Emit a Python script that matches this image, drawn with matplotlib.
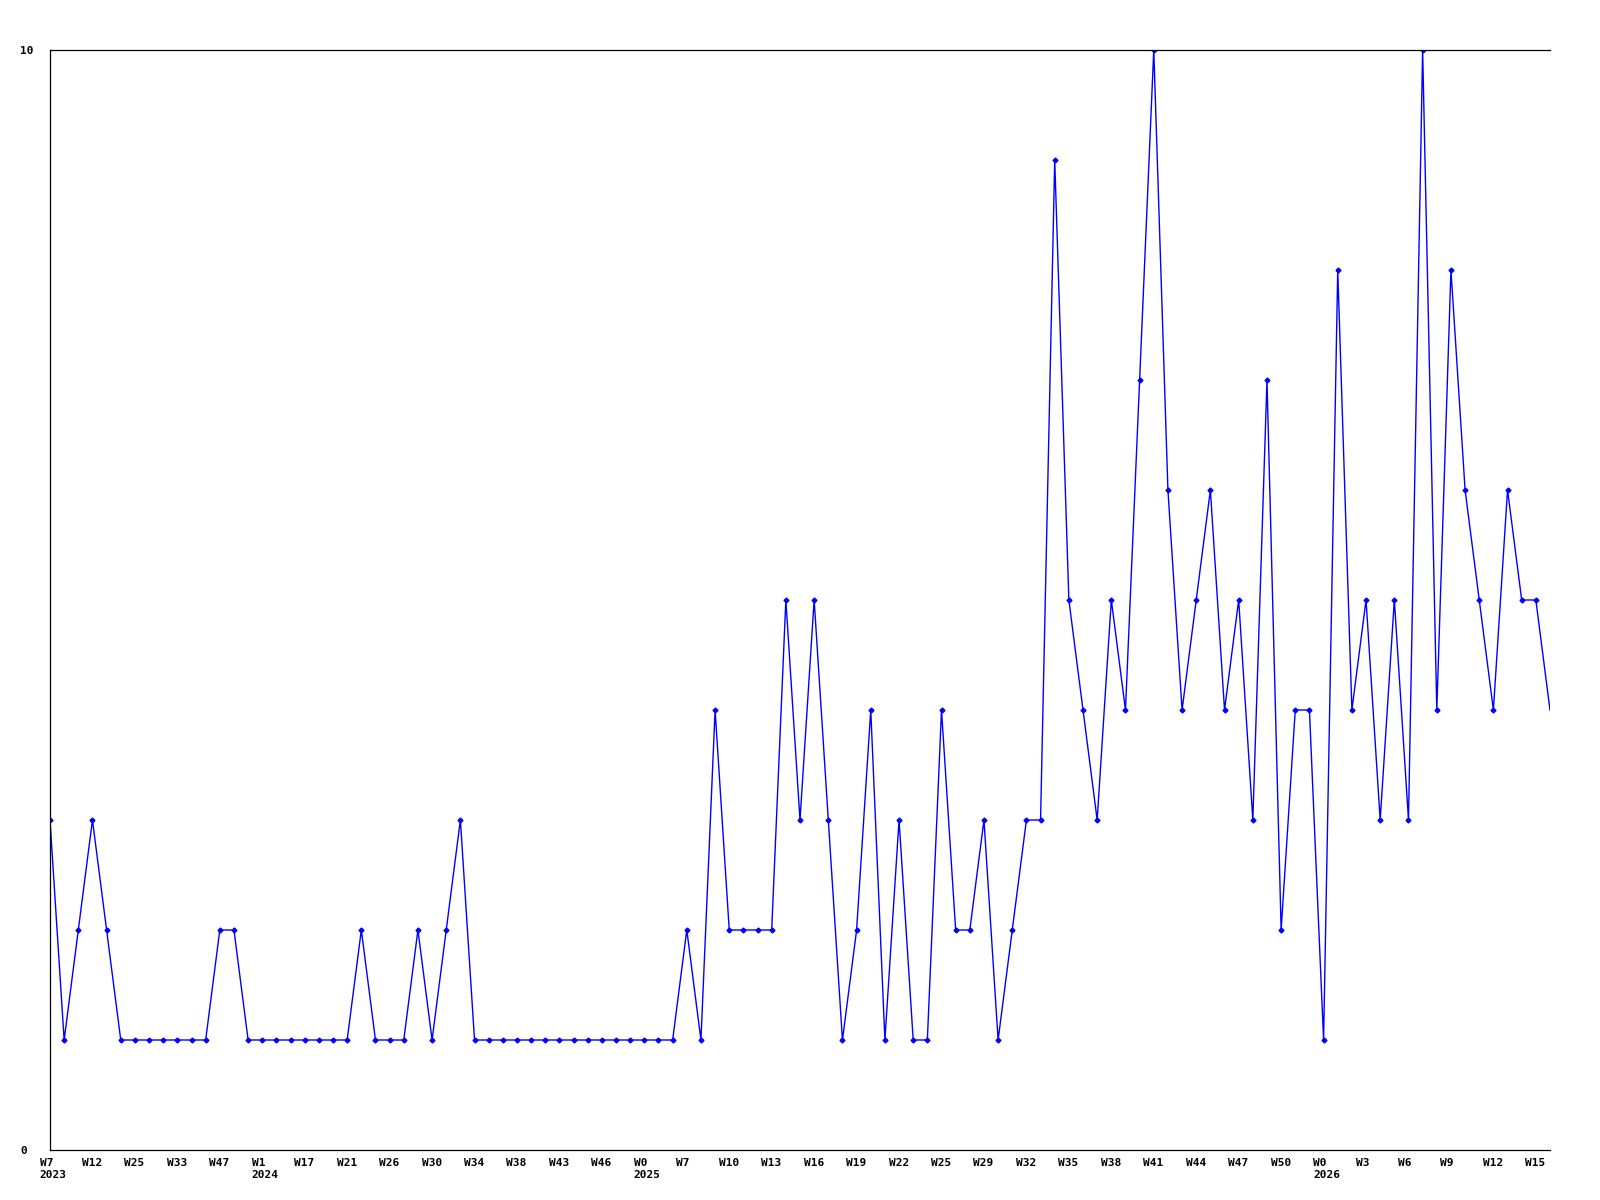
import numpy as np
import matplotlib
matplotlib.use("Agg")
from matplotlib import pyplot as plt
from matplotlib.transforms import ScaledTranslation

# weekly counts, one per point
values = [3, 1, 2, 3, 2, 1, 1, 1, 1, 1, 1, 1, 2, 2, 1, 1, 1, 1, 1, 1,
          1, 1, 2, 1, 1, 1, 2, 1, 2, 3, 1, 1, 1, 1, 1, 1, 1, 1, 1, 1,
          1, 1, 1, 1, 1, 2, 1, 4, 2, 2, 2, 2, 5, 3, 5, 3, 1, 2, 4, 1,
          3, 1, 1, 4, 2, 2, 3, 1, 2, 3, 3, 9, 5, 4, 3, 5, 4, 7, 10, 6,
          4, 5, 6, 4, 5, 3, 7, 2, 4, 4, 1, 8, 4, 5, 3, 5, 3, 10, 4, 8,
          6, 5, 4, 6, 5, 5, 4]

# labels shown on every third point
week_labels = ["W7", "W12", "W25", "W33", "W47", "W1", "W17", "W21", "W26", "W30",
               "W34", "W38", "W43", "W46", "W0", "W7", "W10", "W13", "W16", "W19",
               "W22", "W25", "W29", "W32", "W35", "W38", "W41", "W44", "W47", "W50",
               "W0", "W3", "W6", "W9", "W12", "W15"]
year_labels = ["2023", "", "", "", "", "2024", "", "", "", "",
               "", "", "", "", "2025", "", "", "", "", "",
               "", "", "", "", "", "", "", "", "", "",
               "2026", "", "", "", "", ""]
label_step = 3

y_ticks = [0, 10]

fig = plt.figure(figsize=(16, 12), dpi=100)
ax = fig.add_axes([50 / 1600, 50 / 1200, 1500 / 1600, 1100 / 1200])

x = np.arange(len(values))
ax.plot(x, values, color="#0000ff", lw=1.0, marker="D", markersize=2.5,
        markevery=list(range(len(values) - 1)))

ax.set_xlim(0, len(values) - 1)
ax.set_ylim(0, 10)

font = dict(family="DejaVu Sans Mono", weight="bold", size=8)

ax.set_yticks(y_ticks)
ax.set_yticklabels([str(v) for v in y_ticks], **font)
ax.tick_params(axis="y", length=0, pad=21.6)
for lab in ax.get_yticklabels():
    lab.set_horizontalalignment("left")

xt = list(range(0, len(values), label_step))[:len(week_labels)]
ax.set_xticks(xt)
texts = [w + "\n" + y if y else w for w, y in zip(week_labels, year_labels)]
ax.set_xticklabels(texts, linespacing=1.2, **font)
ax.tick_params(axis="x", length=0, pad=6)
shift = ScaledTranslation(-10.5 / 100, 0, fig.dpi_scale_trans)
for lab in ax.get_xticklabels():
    lab.set_horizontalalignment("left")
    lab.set_multialignment("left")
    lab.set_transform(lab.get_transform() + shift)

ax.spines["right"].set_visible(False)
for s in ("left", "top", "bottom"):
    ax.spines[s].set_linewidth(0.9)
    ax.spines[s].set_color("black")

fig.savefig("out.png", dpi=100)
